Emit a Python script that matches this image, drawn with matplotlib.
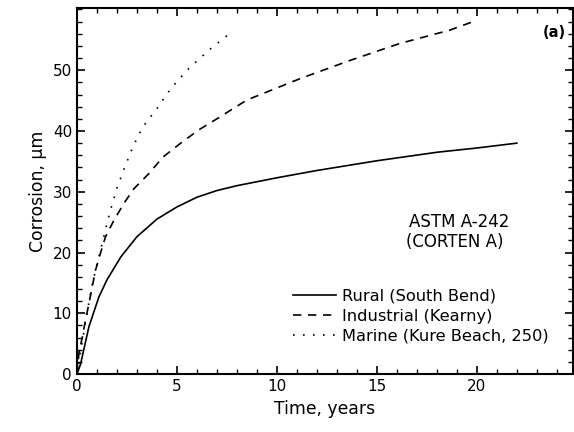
import matplotlib
matplotlib.use("Agg")
import matplotlib.pyplot as plt
from matplotlib.ticker import MultipleLocator, FixedLocator

# Data
rural_t = [0, 0.18, 0.6, 1.1, 1.5, 2.2, 3.0, 4.0, 5.0, 6.0, 7.0, 8.0, 10.0, 12.0, 15.0, 18.0, 20.0, 22.0]
rural_c = [0, 1.6, 7.8, 12.7, 15.5, 19.3, 22.6, 25.5, 27.5, 29.1, 30.2, 31.0, 32.3, 33.5, 35.1, 36.5, 37.2, 38.0]

ind_t = [0, 0.1, 0.27, 0.43, 0.6, 0.77, 0.93, 1.15, 1.43, 1.85, 2.35, 2.85, 3.6, 4.3, 5.15, 6.1, 7.0, 8.5, 11.15, 13.65, 16.15, 18.65, 19.9]
ind_c = [0, 3.4, 6.1, 8.9, 11.6, 14.4, 17.1, 19.6, 22.6, 25.3, 28.1, 30.5, 33.0, 35.7, 37.9, 40.2, 42.0, 45.1, 48.6, 51.6, 54.4, 56.6, 58.1]

mar_t = [0, 0.25, 0.5, 0.75, 1.0, 1.3, 1.5, 1.75, 2.0, 2.4, 2.8, 3.3, 4.0, 4.7, 5.6, 6.6, 7.7]
mar_c = [0, 5.0, 10.0, 14.5, 18.0, 22.0, 24.8, 27.8, 30.6, 34.1, 37.4, 40.7, 43.7, 47.0, 50.3, 53.3, 56.2]

labels = ["Rural (South Bend)", "Industrial (Kearny)", "Marine (Kure Beach, 250)"]
x_ticks = [0, 5, 10, 15, 20]
y_ticks = [0, 10, 20, 30, 40, 50]

plt.rcParams['font.family'] = ['DejaVu Sans']

fig = plt.figure(figsize=(5.74, 4.32), dpi=100)
ax = fig.add_axes([0.134, 0.134, 0.864, 0.847])

lw = 1.2
ax.plot(rural_t, rural_c, color='black', lw=lw, linestyle='-', label=labels[0])
ax.plot(ind_t, ind_c, color='black', lw=lw, linestyle=(0, (5, 4)), label=labels[1])
ax.plot(mar_t, mar_c, color='black', lw=lw, linestyle=(0, (1, 5)), label=labels[2])

ax.set_xlim(0, 24.8)
ax.set_ylim(0, 60.2)
ax.xaxis.set_major_locator(FixedLocator(x_ticks))
ax.xaxis.set_minor_locator(MultipleLocator(1))
ax.yaxis.set_major_locator(FixedLocator(y_ticks))
ax.yaxis.set_minor_locator(MultipleLocator(2))
ax.tick_params(which='both', direction='in', top=True, right=True, labelsize=11)
ax.tick_params(which='major', length=6, width=1.2)
ax.tick_params(which='minor', length=3.5, width=1.0)
for s in ax.spines.values():
    s.set_linewidth(1.5)

ax.set_xlabel("Time, years", fontsize=12.4)
ax.set_ylabel("Corrosion, µm", fontsize=12.4)

ax.text(0.985, 0.934, "(a)", transform=ax.transAxes, ha='right', va='center',
        fontsize=10.5, fontweight='bold')
ax.text(19.1, 25.0, "ASTM A-242", ha='center', va='center', fontsize=12)
ax.text(18.9, 21.8, "(CORTEN A)", ha='center', va='center', fontsize=12)

ax.legend(loc='lower left', bbox_to_anchor=(0.43, 0.075), frameon=False,
          fontsize=11.7, handlelength=2.6, handletextpad=0.4, labelspacing=0.3,
          borderpad=0.2, borderaxespad=0)

fig.savefig("out.png", dpi=100)
